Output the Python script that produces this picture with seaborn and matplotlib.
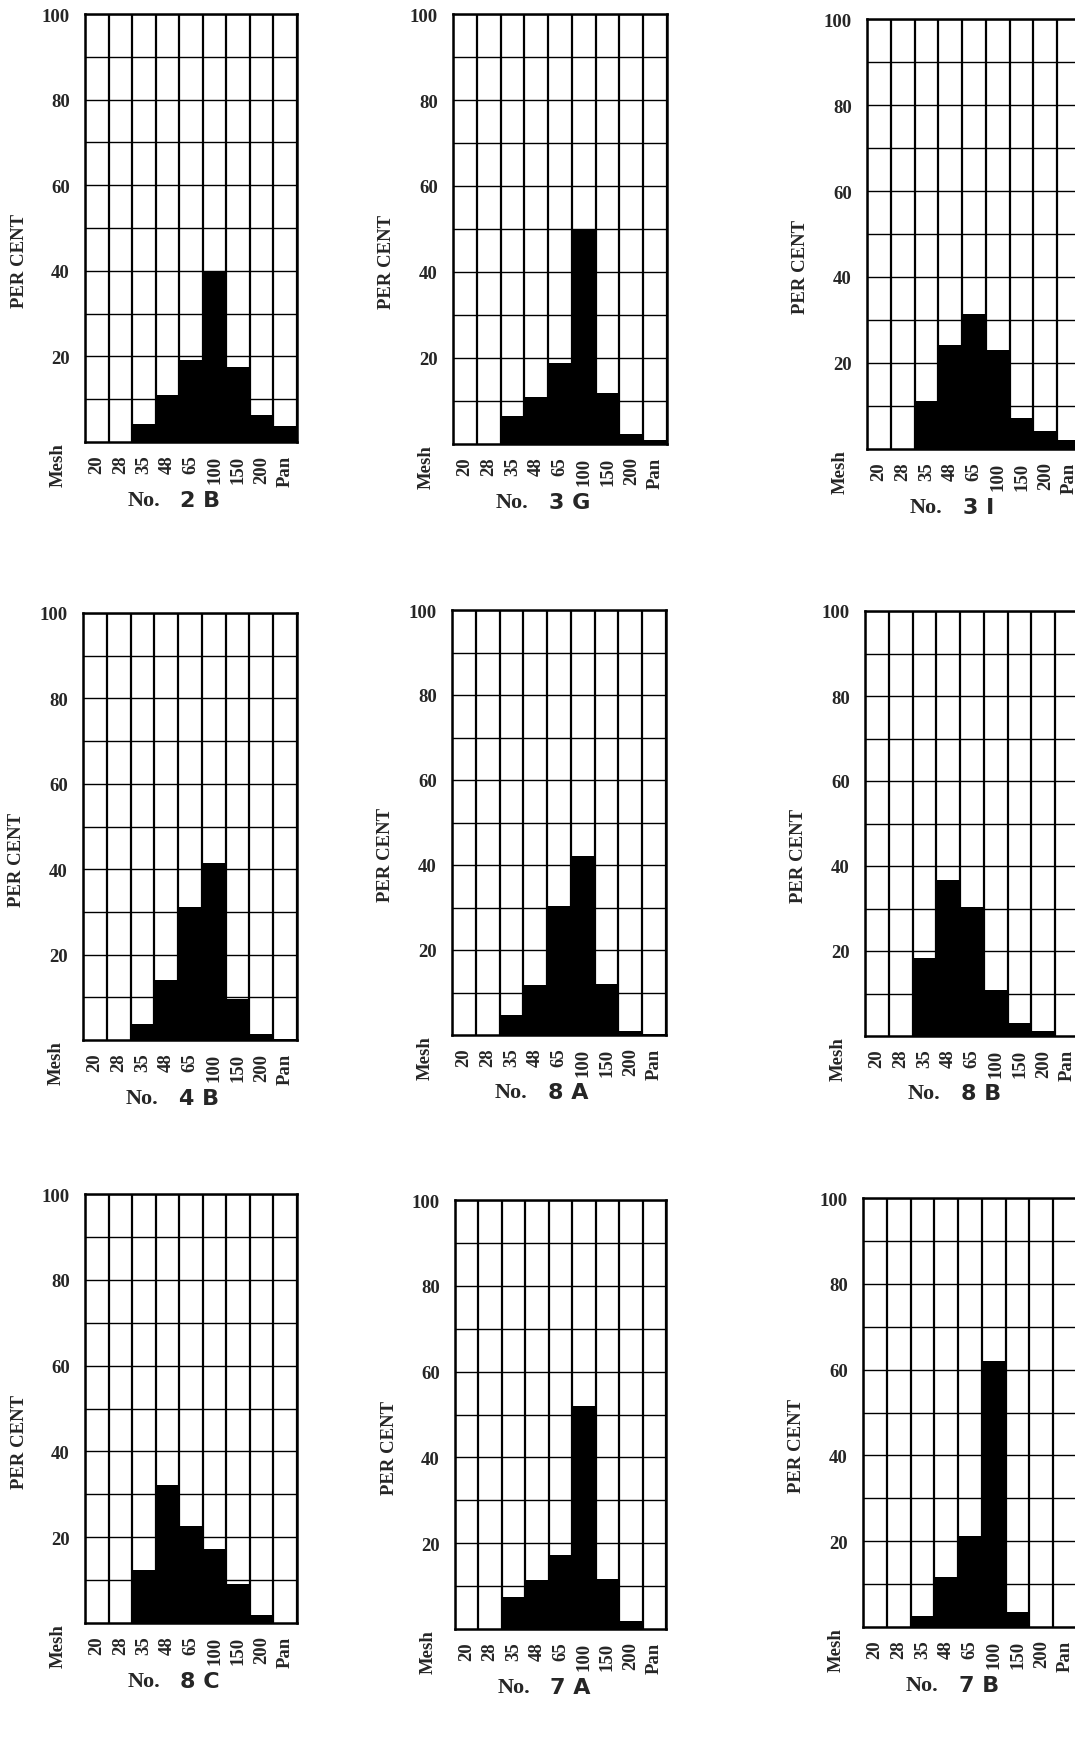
import matplotlib
matplotlib.use("Agg")
import matplotlib.pyplot as plt
import seaborn as sns

# sieve analysis, per cent retained on each mesh
MESH = ["20", "28", "35", "48", "65", "100", "150", "200", "Pan"]

SAMPLES = ["2 B", "3 G", "3 I", "4 B", "8 A", "8 B", "8 C", "7 A", "7 B"]

NO_2B = [0, 0, 4.3, 10.9, 19.1, 40.0, 17.5, 6.4, 3.7]
NO_3G = [0, 0, 6.4, 11.0, 18.8, 50.0, 11.8, 2.3, 1.0]
NO_3I = [0, 0, 11.2, 24.2, 31.4, 23.1, 7.1, 4.3, 2.1]
NO_4B = [0, 0, 3.7, 14.0, 31.2, 41.4, 9.7, 1.3, 0.3]
NO_8A = [0, 0, 4.7, 11.8, 30.3, 42.2, 12.0, 1.0, 0.2]
NO_8B = [0, 0, 18.3, 36.8, 30.3, 10.9, 3.1, 1.1, 0]
NO_8C = [0, 0, 12.3, 32.2, 22.5, 17.2, 9.2, 1.8, 0]
NO_7A = [0, 0, 7.5, 11.5, 17.2, 52.0, 11.6, 1.9, 0]
NO_7B = [0, 0, 2.6, 11.7, 21.1, 61.9, 3.5, 0, 0]

VALUES = [NO_2B, NO_3G, NO_3I, NO_4B, NO_8A, NO_8B, NO_8C, NO_7A, NO_7B]

# panel boxes in pixels: left, top, right, bottom (third column runs off the page)
W, H = 1075, 1758
BOXES = [
    (85, 15, 297, 443), (453, 15, 667, 445), (867, 20, 1081, 450),
    (83, 614, 297, 1041), (452, 611, 666, 1036), (865, 612, 1079, 1037),
    (85, 1195, 297, 1624), (455, 1201, 666, 1630), (863, 1199, 1077, 1628),
]

sns.set_style("white")
plt.rcParams["font.family"] = ["Liberation Serif", "DejaVu Serif"]
plt.rcParams["font.weight"] = "bold"

fig = plt.figure(figsize=(W / 100, H / 100), dpi=100)

for name, vals, (l, t, r, b) in zip(SAMPLES, VALUES, BOXES):
    ax = fig.add_axes([l / W, 1 - b / H, (r - l) / W, (b - t) / H])
    sns.barplot(x=MESH, y=vals, color="black", width=1.0, saturation=1,
                linewidth=0, ax=ax, zorder=3)
    ax.set_xlim(-0.5, 8.5)
    ax.set_ylim(0, 100)

    ax.set_yticks([20, 40, 60, 80, 100])
    ax.set_yticks([10, 30, 50, 70, 90], minor=True)
    ax.set_xticks(range(9))
    ax.set_xticklabels(MESH, rotation=90)
    ax.set_xticks([i - 0.5 for i in range(10)], minor=True)

    ax.xaxis.grid(True, which="minor", color="black", lw=1.6)
    ax.xaxis.grid(False, which="major")
    ax.yaxis.grid(True, which="both", color="black", lw=1.0)
    ax.set_axisbelow(True)

    ax.tick_params(which="both", length=0)
    ax.tick_params(axis="y", pad=11, labelsize=13.5)
    ax.tick_params(axis="x", pad=9, labelsize=13.5)
    for lab in ax.get_xticklabels() + ax.get_yticklabels():
        lab.set_fontweight("bold")
    for sp in ax.spines.values():
        sp.set_visible(True)
        sp.set_color("black")
        sp.set_linewidth(1.8)

    ax.set_xlabel("")
    ax.set_ylabel("")
    ax.text(-0.31, 0.425, "PER CENT", transform=ax.transAxes, rotation=90,
            ha="center", va="center", fontsize=13.5, fontweight="bold")
    ax.text(-0.125, 0.0, "Mesh", transform=ax.transAxes, rotation=90,
            ha="center", va="top", fontsize=13.5, fontweight="bold")
    ax.text(0.2, -0.135, "No.", transform=ax.transAxes, ha="left",
            va="center", fontsize=16, fontweight="bold")
    ax.text(0.45, -0.135, name, transform=ax.transAxes, ha="left",
            va="center", fontsize=16, fontweight="bold",
            family=["DejaVu Sans"])

fig.savefig("out.png", dpi=100, facecolor="white")
